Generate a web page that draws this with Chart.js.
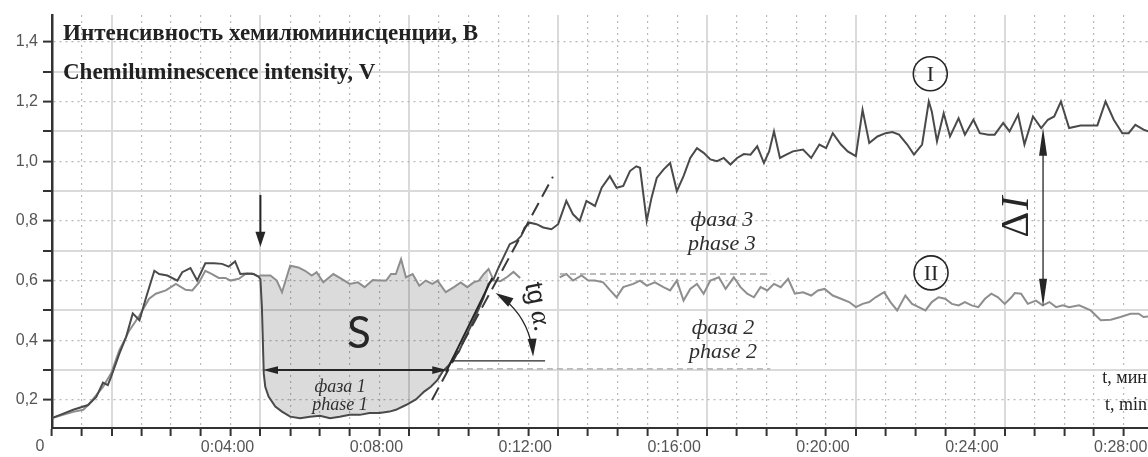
<!DOCTYPE html>
<html>
<head>
<meta charset="utf-8">
<script src="https://cdn.jsdelivr.net/npm/chart.js@4/dist/chart.umd.min.js"></script>
<style>
  html, body { margin: 0; padding: 0; background: #fff; }
  #wrap { width: 1148px; height: 457px; position: relative; }
</style>
</head>
<body>
<div id="wrap"><canvas id="chart"></canvas></div>
<script>
// Time in minutes, chemiluminescence intensity in volts.
// Curve I (darker trace)
const timeI = [
  0.00, 0.22, 0.57, 0.97, 1.19, 1.37, 1.50, 1.59, 1.81, 1.99,
  2.17, 2.35, 2.53, 2.75, 2.88, 3.10, 3.37, 3.50, 3.72, 3.90,
  4.12, 4.35, 4.57, 4.75, 4.92, 5.06, 5.24, 5.42, 5.55, 5.60,
  5.64, 5.69, 5.73, 5.82, 6.00, 6.18, 6.40, 6.67, 6.93, 7.20,
  7.47, 7.73, 8.00, 8.27, 8.53, 8.80, 9.07, 9.24, 9.51, 9.78,
  10.00, 10.18, 10.36, 10.49, 10.67, 10.80, 10.93, 11.07, 11.20, 11.33,
  11.47, 11.60, 11.73, 11.87, 12.00, 12.13, 12.30, 12.48, 12.61, 12.70,
  12.84, 13.02, 13.20, 13.42, 13.60, 13.82, 14.00, 14.18, 14.36, 14.59,
  14.77, 14.99, 15.17, 15.35, 15.53, 15.70, 15.80, 15.98, 16.11, 16.25,
  16.43, 16.61, 16.79, 16.97, 17.15, 17.33, 17.51, 17.69, 17.87, 18.05,
  18.23, 18.41, 18.59, 18.77, 18.95, 19.13, 19.27, 19.40, 19.56, 19.73,
  19.91, 20.18, 20.40, 20.62, 20.80, 20.98, 21.20, 21.38, 21.60, 21.78,
  21.96, 22.18, 22.40, 22.58, 22.76, 22.98, 23.16, 23.38, 23.56, 23.64,
  23.78, 23.96, 24.13, 24.36, 24.53, 24.76, 24.93, 25.16, 25.33, 25.56,
  25.73, 25.96, 26.13, 26.36, 26.58, 26.76, 26.93, 27.11, 27.33, 27.64,
  28.09, 28.31, 28.53, 28.76, 28.93, 29.11, 29.33, 29.45
];
const valuesI = [
  0.139, 0.150, 0.167, 0.183, 0.210, 0.258, 0.250, 0.278, 0.355, 0.410,
  0.490, 0.467, 0.544, 0.633, 0.622, 0.617, 0.600, 0.628, 0.642, 0.600,
  0.658, 0.658, 0.656, 0.647, 0.664, 0.622, 0.624, 0.622, 0.613, 0.605,
  0.511, 0.289, 0.244, 0.211, 0.178, 0.161, 0.144, 0.139, 0.144, 0.147,
  0.139, 0.144, 0.150, 0.150, 0.156, 0.156, 0.161, 0.167, 0.183, 0.202,
  0.228, 0.244, 0.267, 0.294, 0.317, 0.344, 0.361, 0.400, 0.433, 0.467,
  0.506, 0.544, 0.589, 0.606, 0.644, 0.678, 0.722, 0.733, 0.750, 0.778,
  0.794, 0.789, 0.778, 0.772, 0.789, 0.867, 0.822, 0.800, 0.867, 0.850,
  0.911, 0.950, 0.911, 0.917, 0.967, 0.983, 0.978, 0.800, 0.878, 0.944,
  0.972, 0.994, 0.900, 0.950, 1.011, 1.044, 1.028, 1.006, 1.000, 1.011,
  0.989, 1.011, 1.024, 1.022, 1.050, 0.994, 1.033, 1.100, 1.011, 1.022,
  1.033, 1.039, 1.011, 1.056, 1.044, 1.094, 1.056, 1.033, 1.017, 1.172,
  1.061, 1.083, 1.094, 1.098, 1.089, 1.056, 1.022, 1.056, 1.200, 1.167,
  1.067, 1.161, 1.083, 1.144, 1.089, 1.139, 1.094, 1.089, 1.089, 1.128,
  1.100, 1.156, 1.056, 1.150, 1.111, 1.139, 1.150, 1.200, 1.111, 1.120,
  1.120, 1.200, 1.139, 1.094, 1.094, 1.122, 1.106, 1.100
];

// Curve II (lighter trace); null marks a break in the record
const timeII = [
  0.00, 0.57, 0.84, 0.97, 1.37, 1.59, 1.81, 2.08, 2.35, 2.61,
  2.79, 3.06, 3.33, 3.59, 3.77, 3.95, 4.12, 4.30, 4.48, 4.66,
  4.80, 5.02, 5.20, 5.38, 5.55, 5.60, 5.87, 6.04, 6.18, 6.40,
  6.62, 6.80, 6.98, 7.11, 7.29, 7.56, 7.78, 8.00, 8.22, 8.40,
  8.62, 8.80, 8.98, 9.11, 9.24, 9.38, 9.51, 9.69, 9.87, 10.04,
  10.22, 10.36, 10.58, 10.80, 10.98, 11.16, 11.33, 11.47, 11.60, 11.73,
  11.87, 12.05, 12.23, 12.40, 12.58, 13.10, 13.64, 13.82, 14.00, 14.23,
  14.41, 14.59, 14.81, 15.00, 15.17, 15.35, 15.62, 15.80, 15.98, 16.20,
  16.43, 16.61, 16.79, 16.97, 17.15, 17.33, 17.51, 17.69, 17.92, 18.10,
  18.32, 18.50, 18.68, 18.86, 19.04, 19.22, 19.40, 19.58, 19.78, 19.96,
  20.18, 20.40, 20.58, 20.76, 20.98, 21.20, 21.42, 21.60, 21.78, 21.96,
  22.13, 22.36, 22.53, 22.71, 22.93, 23.11, 23.29, 23.47, 23.64, 23.82,
  24.00, 24.18, 24.36, 24.53, 24.71, 24.89, 25.07, 25.24, 25.42, 25.60,
  25.78, 25.87, 26.04, 26.22, 26.44, 26.62, 26.80, 26.98, 27.16, 27.33,
  27.60, 27.91, 28.18, 28.45, 28.71, 28.98, 29.20, 29.33, 29.45
];
const valuesII = [
  0.139, 0.160, 0.167, 0.183, 0.244, 0.289, 0.367, 0.433, 0.483, 0.539,
  0.556, 0.567, 0.589, 0.569, 0.567, 0.594, 0.633, 0.622, 0.609, 0.609,
  0.600, 0.606, 0.622, 0.624, 0.613, 0.617, 0.617, 0.600, 0.561, 0.650,
  0.644, 0.633, 0.617, 0.628, 0.594, 0.622, 0.606, 0.589, 0.594, 0.578,
  0.602, 0.600, 0.600, 0.622, 0.622, 0.672, 0.611, 0.622, 0.583, 0.600,
  0.589, 0.600, 0.561, 0.578, 0.594, 0.578, 0.594, 0.600, 0.622, 0.639,
  0.600, 0.598, 0.612, 0.629, 0.609, null, 0.611, 0.622, 0.600, 0.617,
  0.600, 0.600, 0.594, 0.567, 0.544, 0.578, 0.589, 0.600, 0.583, 0.594,
  0.578, 0.567, 0.600, 0.533, 0.572, 0.589, 0.556, 0.600, 0.611, 0.572,
  0.611, 0.578, 0.556, 0.544, 0.578, 0.567, 0.589, 0.578, 0.606, 0.556,
  0.561, 0.550, 0.567, 0.572, 0.550, 0.539, 0.528, 0.511, 0.522, 0.528,
  0.544, 0.561, 0.528, 0.500, 0.550, 0.522, 0.511, 0.500, 0.528, 0.544,
  0.539, 0.522, 0.517, 0.528, 0.517, 0.511, 0.539, 0.556, 0.544, 0.522,
  0.544, 0.558, 0.556, 0.522, 0.533, 0.517, 0.528, 0.511, 0.517, 0.511,
  0.517, 0.500, 0.467, 0.469, 0.478, 0.489, 0.489, 0.478, 0.480
];

// Phase 1 window: area S lies between curve II (above) and curve I (below)
const phase1Window = [5.60, 11.73];

// Axis ticks and labels
const xLabelMinutes = [0, 4, 8, 12, 16, 20, 24, 28];
const xTickLabels = ['0', '0:04:00', '0:08:00', '0:12:00', '0:16:00', '0:20:00', '0:24:00', '0:28:00'];
const yLabelValues = [0.2, 0.4, 0.6, 0.8, 1.0, 1.2, 1.4];
const yTickLabels = ['0,2', '0,4', '0,6', '0,8', '1,0', '1,2', '1,4'];

const toPoints = (t, v) => t.map((x, i) => ({ x, y: v[i] }));
const areaS = toPoints(timeII, valuesII)
  .filter(p => p.x >= phase1Window[0] && p.x <= phase1Window[1]);

const AXIS = '#333';
const GRID_SOLID = '#dadada';
const GRID_DOT = '#b9b9b9';
const INK = '#262626';

function head(ctx, x, y, ang, len, half) {
  const c = Math.cos(ang), s = Math.sin(ang);
  ctx.beginPath();
  ctx.moveTo(x, y);
  ctx.lineTo(x - len * c + half * s, y - len * s - half * c);
  ctx.lineTo(x - len * c - half * s, y - len * s + half * c);
  ctx.closePath();
  ctx.fill();
}

function seg(ctx, x1, y1, x2, y2) {
  ctx.beginPath();
  ctx.moveTo(x1, y1);
  ctx.lineTo(x2, y2);
  ctx.stroke();
}

const annotations = {
  id: 'annotations',
  afterDatasetsDraw(chart) {
    const { ctx, chartArea: a, scales: { x: xs, y: ys } } = chart;
    const X = v => xs.getPixelForValue(v);
    const Y = v => ys.getPixelForValue(v);
    ctx.save();
    ctx.fillStyle = INK;
    ctx.strokeStyle = INK;
    ctx.lineCap = 'butt';

    // dashed reference levels of phase 2 / phase 3
    ctx.save();
    ctx.strokeStyle = '#a5a5a5';
    ctx.lineWidth = 1.3;
    ctx.setLineDash([6, 4]);
    seg(ctx, X(13.65), Y(0.622), X(19.3), Y(0.622));
    seg(ctx, X(10.88), Y(0.304), X(19.3), Y(0.304));
    ctx.restore();

    // injection arrow
    ctx.lineWidth = 2;
    seg(ctx, X(5.6), Y(0.887), X(5.6), Y(0.713) - 10);
    head(ctx, X(5.6), Y(0.713), Math.PI / 2, 15, 5);

    // phase 1 span
    const p1y = Y(0.3);
    seg(ctx, X(5.67) + 8, p1y, X(10.62) - 8, p1y);
    head(ctx, X(5.67), p1y, Math.PI, 15, 3.8);
    head(ctx, X(10.62), p1y, 0, 15, 3.8);

    // tangent of the rising front
    ctx.save();
    ctx.strokeStyle = '#3a3a3a';
    ctx.lineWidth = 2;
    ctx.setLineDash([14, 7]);
    seg(ctx, X(10.21), Y(0.2), X(13.46), Y(0.948));
    ctx.restore();
    ctx.lineWidth = 2;
    seg(ctx, X(10.59), Y(0.294), X(11.83), Y(0.609));

    // horizontal base for the angle
    ctx.lineWidth = 1.3;
    const cx = X(10.78), cy = Y(0.331);
    seg(ctx, cx, cy, X(13.25), cy);

    // angle arc with arrowheads
    const r = 80, a0 = -58 * Math.PI / 180, a1 = -3 * Math.PI / 180;
    ctx.beginPath();
    ctx.arc(cx, cy, r, a0 + 0.12, a1 - 0.12);
    ctx.stroke();
    head(ctx, cx + r * Math.cos(a0), cy + r * Math.sin(a0),
      Math.atan2(-Math.cos(a0), Math.sin(a0)), 18, 5);
    head(ctx, cx + r * Math.cos(a1), cy + r * Math.sin(a1),
      Math.atan2(Math.cos(a1), -Math.sin(a1)), 18, 4.5);

    // tg α
    ctx.save();
    ctx.translate(X(13.06), Y(0.512));
    ctx.rotate(78 * Math.PI / 180);
    ctx.textBaseline = 'alphabetic';
    ctx.font = '26px "Liberation Sans", Arial, sans-serif';
    const wTg = ctx.measureText('tg').width;
    ctx.font = 'italic 27px "Liberation Serif", serif';
    const wAl = ctx.measureText('α.').width;
    const start = -(wTg + 7 + wAl) / 2;
    ctx.font = '26px "Liberation Sans", Arial, sans-serif';
    ctx.textAlign = 'left';
    ctx.fillText('tg', start, 8);
    ctx.font = 'italic 27px "Liberation Serif", serif';
    ctx.fillText('α.', start + wTg + 7, 8);
    ctx.restore();

    // S
    ctx.save();
    ctx.translate(X(8.25), Y(0.421));
    ctx.font = '44px Lato, "Open Sans", sans-serif';
    ctx.textAlign = 'center';
    ctx.textBaseline = 'middle';
    ctx.fillText('S', 0, 0);
    ctx.restore();

    // phase captions
    ctx.textAlign = 'center';
    ctx.textBaseline = 'alphabetic';
    ctx.fillStyle = '#2e2e2e';
    ctx.font = 'italic 18px "Liberation Serif", serif';
    ctx.fillText('фаза 1', X(7.74), Y(0.227));
    ctx.fillText('phase 1', X(7.74), Y(0.166));
    ctx.font = 'italic 22px "Liberation Serif", serif';
    ctx.fillText('фаза 3', X(18.0), Y(0.783));
    ctx.fillText('phase 3', X(18.0), Y(0.703));
    ctx.fillText('фаза 2', X(18.03), Y(0.421));
    ctx.fillText('phase 2', X(18.03), Y(0.341));

    // curve markers
    ctx.lineWidth = 1.6;
    ctx.strokeStyle = INK;
    ctx.fillStyle = INK;
    ctx.font = '22px "Liberation Serif", serif';
    ctx.textBaseline = 'middle';
    [[23.6, 1.293, 'I'], [23.62, 0.626, 'II']].forEach(([t, v, s]) => {
      ctx.beginPath();
      ctx.arc(X(t), Y(v), 17, 0, Math.PI * 2);
      ctx.stroke();
      ctx.fillText(s, X(t), Y(v) + 1);
    });

    // ΔI span
    ctx.lineWidth = 1.3;
    const dx = X(26.63), dTop = Y(1.112), dBot = Y(0.512);
    seg(ctx, dx, dTop + 20, dx, dBot - 20);
    head(ctx, dx, dTop, -Math.PI / 2, 28, 4);
    head(ctx, dx, dBot, Math.PI / 2, 28, 4);

    ctx.save();
    ctx.translate(X(25.9), Y(0.813));
    ctx.rotate(-Math.PI / 2);
    ctx.textBaseline = 'middle';
    ctx.textAlign = 'left';
    ctx.font = '40px "Liberation Serif", serif';
    const wD = ctx.measureText('Δ').width;
    ctx.font = 'italic 40px "Liberation Serif", serif';
    const wI = ctx.measureText('I').width;
    const s0 = -(wD + wI + 2) / 2;
    ctx.font = '40px "Liberation Serif", serif';
    ctx.fillText('Δ', s0, 2);
    ctx.font = 'italic 40px "Liberation Serif", serif';
    ctx.fillText('I', s0 + wD + 2, 2);
    ctx.restore();

    // axis captions
    ctx.fillStyle = '#222';
    ctx.textAlign = 'left';
    ctx.textBaseline = 'alphabetic';
    ctx.font = 'bold 23px "Liberation Serif", serif';
    ctx.fillText('Интенсивность хемилюминисценции, В', a.left + 11, a.top + 25);
    ctx.fillText('Chemiluminescence intensity, V', a.left + 11, a.top + 64);
    ctx.font = '18px "Liberation Serif", serif';
    ctx.textAlign = 'right';
    ctx.fillText('t, мин', a.right - 1, a.bottom - 45);
    ctx.fillText('t, min', a.right - 1, a.bottom - 18);

    // origin label of the time axis
    ctx.fillStyle = '#555';
    ctx.font = '16px "Liberation Sans", Arial, sans-serif';
    ctx.textAlign = 'center';
    ctx.textBaseline = 'middle';
    ctx.fillText(xTickLabels[0], X(0) - 12, a.bottom + 19);

    ctx.restore();
  }
};

const isX = (v, m) => Math.abs(v - m) < 1e-6;

new Chart(document.getElementById('chart'), {
  type: 'line',
  data: {
    datasets: [
      {
        label: 'I',
        data: toPoints(timeI, valuesI),
        borderColor: '#4a4a4a',
        borderWidth: 2,
        pointRadius: 0,
        tension: 0,
        fill: false
      },
      {
        label: 'II',
        data: toPoints(timeII, valuesII),
        borderColor: '#8e8e8e',
        borderWidth: 2,
        pointRadius: 0,
        tension: 0,
        spanGaps: false,
        fill: false
      },
      {
        label: 'S',
        data: areaS,
        borderColor: 'rgba(0,0,0,0)',
        borderWidth: 0,
        pointRadius: 0,
        tension: 0,
        fill: { target: 0, above: 'rgba(0,0,0,0.14)', below: 'rgba(0,0,0,0)' }
      }
    ]
  },
  options: {
    responsive: true,
    maintainAspectRatio: false,
    animation: false,
    layout: { padding: { top: 15, right: 0, bottom: 0, left: 0 } },
    plugins: { legend: { display: false }, tooltip: { enabled: false } },
    scales: {
      x: {
        type: 'linear',
        min: 0,
        max: 29.45,
        afterFit: s => { s.height = 29; },
        ticks: {
          stepSize: 0.8,
          includeBounds: false,
          autoSkip: false,
          maxRotation: 0,
          align: 'start',
          padding: 2,
          color: '#555',
          font: { family: '"Liberation Sans", Arial, sans-serif', size: 16 },
          callback: v => {
            const i = xLabelMinutes.findIndex(m => isX(v, m));
            return i > 0 ? xTickLabels[i] : '';
          }
        },
        grid: {
          drawTicks: true,
          tickLength: 8,
          tickWidth: 2,
          tickColor: AXIS,
          color: c => {
            if (!c.tick) return 'rgba(0,0,0,0)';
            const k = Math.round(c.tick.value / 0.8);
            if (k === 0) return 'rgba(0,0,0,0)';
            return k % 5 === 2 ? GRID_SOLID : GRID_DOT;
          },
          lineWidth: c => (c.tick && Math.round(c.tick.value / 0.8) % 5 === 2) ? 2 : 1.2
        },
        border: {
          display: true,
          color: AXIS,
          width: 2,
          dash: c => (c.tick && Math.round(c.tick.value / 0.8) % 5 !== 2) ? [2, 4] : []
        }
      },
      y: {
        min: 0.106,
        max: 1.49,
        afterFit: s => { s.width = 52; },
        ticks: {
          stepSize: 0.1,
          includeBounds: false,
          autoSkip: false,
          padding: 5,
          color: '#555',
          font: { family: '"Liberation Sans", Arial, sans-serif', size: 16 },
          callback: v => {
            const i = yLabelValues.findIndex(m => isX(v, m));
            return i >= 0 ? yTickLabels[i] : '';
          }
        },
        grid: {
          drawTicks: true,
          tickLength: 9,
          tickWidth: 2,
          tickColor: AXIS,
          color: c => {
            if (!c.tick) return 'rgba(0,0,0,0)';
            return Math.round(c.tick.value * 10) % 2 === 1 ? GRID_SOLID : GRID_DOT;
          },
          lineWidth: c => (c.tick && Math.round(c.tick.value * 10) % 2 === 1) ? 2 : 1.2
        },
        border: {
          display: true,
          color: AXIS,
          width: 2.5,
          dash: c => (c.tick && Math.round(c.tick.value * 10) % 2 === 0) ? [2, 4] : []
        }
      }
    }
  },
  plugins: [annotations]
});
</script>
</body>
</html>
